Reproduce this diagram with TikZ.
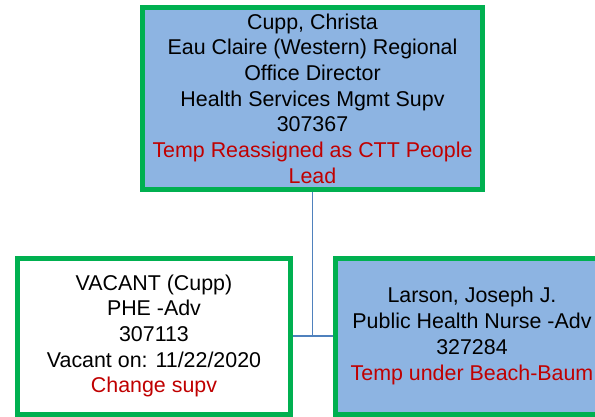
\documentclass[tikz,border=0pt]{standalone}
\usepackage{fontspec}
\setmainfont{Liberation Sans}
\usetikzlibrary{backgrounds}
\definecolor{boxgreen}{RGB}{0,176,80}
\definecolor{boxblue}{RGB}{141,180,226}
\definecolor{txtred}{RGB}{192,0,0}
\definecolor{linkblue}{RGB}{79,129,189}
\tikzset{
  orgbox/.style={draw=boxgreen, line width=5pt, align=center, inner sep=0pt,
    font=\fontsize{21.4}{25.7}\selectfont},
  bluebox/.style={orgbox, fill=boxblue},
  whitebox/.style={orgbox, fill=white},
  link/.style={draw=linkblue, line width=1.6pt}
}
\begin{document}
\begin{tikzpicture}[x=1pt,y=-1pt]
\useasboundingbox (0,0) rectangle (595,417);
\node[bluebox, minimum width=340pt, minimum height=182pt] (top) at (312.5,98.5)
  {Cupp, Christa\\Eau Claire (Western) Regional\\Office Director\\Health Services Mgmt Supv\\307367\\\textcolor{txtred}{Temp Reassigned as CTT People}\\\textcolor{txtred}{Lead}};
\node[whitebox, minimum width=273pt, minimum height=156pt] (left) at (154,336)
  {VACANT (Cupp)\\PHE -Adv\\307113\\Vacant on: 11/22/2020\\\textcolor{txtred}{Change supv}};
\node[bluebox, minimum width=273pt, minimum height=156pt] (right) at (472,336)
  {Larson, Joseph J.\\Public Health Nurse -Adv\\327284\\\textcolor{txtred}{Temp under Beach-Baum}};
\begin{scope}[on background layer]
\coordinate (junction) at (top.south |- left.east);
\draw[link] (top.south) -- (junction);
\draw[link] (left.east) -- (right.west);
\end{scope}
\end{tikzpicture}
\end{document}
